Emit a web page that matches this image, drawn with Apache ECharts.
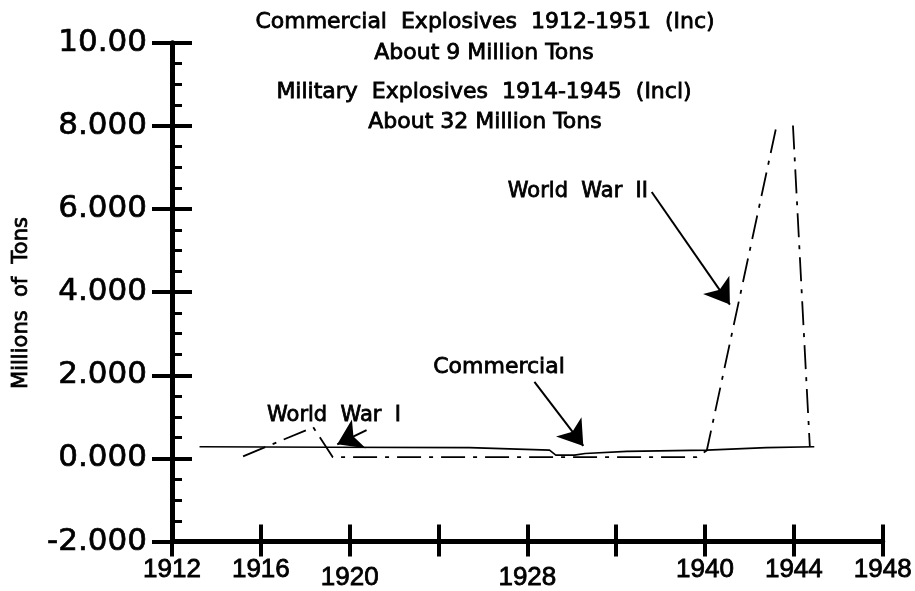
<!DOCTYPE html>
<html><head><meta charset="utf-8">
<script src="https://cdn.jsdelivr.net/npm/echarts@6/dist/echarts.min.js"></script>
<style>html,body{margin:0;padding:0;background:#fff}#c{width:915px;height:591px}</style>
</head><body><div id="c"></div>
<script>
// x positions are in tick-slot units: 0 = "1912" tick ... 8 = "1948" tick
const xTickLabels = ['1912','1916','1920','','1928','','1940','1944','1948'];
const xLowLabels = ['1920','1928'];
const yTickLabels = ['-2.000','0.000','2.000','4.000','6.000','8.000','10.00'];

const commercialX = [0.31, 1.78, 3.35, 4.25, 4.32, 4.53, 4.65, 5.12, 6.02, 6.69, 7.23];
const commercialY = [0.28, 0.27, 0.26, 0.20, 0.08, 0.08, 0.12, 0.17, 0.20, 0.26, 0.28];

const militaryX = [0.80, 1.59, 1.81, 5.90, 6.02, 6.81, 6.90, 6.99, 7.18];
const militaryY = [0.05, 0.75, 0.03, 0.03, 0.19, 8.05, null, 8.01, 0.28];

// annotation arrows: [startX, startY, endX, endY]
const arrowWW2 = [5.40, 6.41, 6.28, 3.70];
const arrowCommercial = [4.08, 1.84, 4.63, 0.30];
const arrowWW1 = [2.19, 0.68, 1.86, 0.34];

const titleLines = ['Commercial  Explosives  1912-1951  (Inc)', 'About 9 Million Tons',
                    'Military  Explosives  1914-1945  (Incl)', 'About 32 Million Tons'];

const chart = echarts.init(document.getElementById('c'), null, {renderer: 'canvas'});
const zip = (xs, ys) => xs.map((x, i) => [x, ys[i]]);
const arrowPair = a => [{coord: [a[0], a[1]]}, {coord: [a[2], a[3]]}];

const txtStyle = (text, size, family, align) => ({
  text, fill: '#000', font: `${size}px ${family}`, textAlign: align || 'center', textVerticalAlign: 'middle',
  stroke: '#000', lineWidth: 0.8
});

const axisCommon = {
  type: 'value', min: 0, max: 8, interval: 1,
  splitLine: {show: false}
};

chart.setOption({
  animation: false,
  backgroundColor: '#fff',
  grid: {left: 172, right: 32, top: 42.7, bottom: 49.3},
  xAxis: [
    Object.assign({}, axisCommon, {
      position: 'bottom',
      axisLine: {show: true, onZero: false, lineStyle: {color: '#000', width: 5}},
      axisTick: {show: true, inside: true, length: 17, lineStyle: {color: '#000', width: 4}},
      axisLabel: {
        show: true, margin: 15, color: '#000',
        formatter: v => {
          const s = xTickLabels[Math.round(v)] || '';
          if (!s) return '';
          return xLowLabels.includes(s) ? '{lo|' + s + '}' : '{hi|' + s + '}';
        },
        rich: {
          hi: {fontSize: 26, fontFamily: 'Liberation Sans', color: '#000', textBorderColor: '#000', textBorderWidth: 0.8},
          lo: {fontSize: 26, fontFamily: 'Liberation Sans', color: '#000', padding: [8, 0, 0, 0], textBorderColor: '#000', textBorderWidth: 0.8}
        }
      }
    }),
    Object.assign({}, axisCommon, {
      position: 'bottom', offset: 0,
      axisLine: {show: false, onZero: false},
      axisTick: {show: true, inside: false, length: 15, lineStyle: {color: '#000', width: 4}},
      axisLabel: {show: false}
    })
  ],
  yAxis: [
    {
      type: 'value', min: -2, max: 10, interval: 2, position: 'left',
      splitLine: {show: false},
      axisLine: {show: true, onZero: false, lineStyle: {color: '#000', width: 5}},
      axisTick: {show: true, inside: true, length: 20, lineStyle: {color: '#000', width: 4}},
      minorTick: {show: true, splitNumber: 4, length: 10, lineStyle: {color: '#000', width: 3}},
      axisLabel: {
        show: true, margin: 25, color: '#000', fontSize: 31, fontFamily: 'DejaVu Sans',
        textBorderColor: '#000', textBorderWidth: 0.7,
        formatter: v => yTickLabels[Math.round((v + 2) / 2)] || ''
      }
    },
    {
      type: 'value', min: -2, max: 10, interval: 2, position: 'left', offset: 0,
      splitLine: {show: false},
      axisLine: {show: false, onZero: false},
      axisTick: {show: true, inside: false, length: 20, lineStyle: {color: '#000', width: 4}},
      axisLabel: {show: false}
    }
  ],
  series: [
    {
      name: 'Commercial', type: 'line', xAxisIndex: 0, yAxisIndex: 0,
      data: zip(commercialX, commercialY), showSymbol: false, symbol: 'none',
      lineStyle: {color: '#000', width: 1.6},
      markLine: {
        silent: true, symbol: ['none', 'arrow'], symbolSize: 24,
        label: {show: false},
        lineStyle: {color: '#000', width: 2, type: 'solid'},
        itemStyle: {color: '#000'},
        data: [arrowPair(arrowWW2), arrowPair(arrowCommercial), arrowPair(arrowWW1)]
      }
    },
    {
      name: 'Military', type: 'line', xAxisIndex: 0, yAxisIndex: 0,
      data: zip(militaryX, militaryY), showSymbol: false, symbol: 'none', connectNulls: false,
      lineStyle: {color: '#000', width: 1.8, type: [24, 8, 4, 8]}
    }
  ],
  graphic: [
    {type: 'text', x: 485, y: 22, style: txtStyle(titleLines[0], 22, 'DejaVu Sans')},
    {type: 'text', x: 484, y: 53, style: txtStyle(titleLines[1], 22, 'DejaVu Sans')},
    {type: 'text', x: 484, y: 92, style: txtStyle(titleLines[2], 22, 'DejaVu Sans')},
    {type: 'text', x: 485, y: 122, style: txtStyle(titleLines[3], 22, 'DejaVu Sans')},
    {type: 'text', x: 648, y: 192, style: txtStyle('World  War  II', 21, 'DejaVu Sans', 'right')},
    {type: 'text', x: 499, y: 367, style: txtStyle('Commercial', 22, 'DejaVu Sans')},
    {type: 'text', x: 334, y: 416, style: txtStyle('World  War  I', 21, 'DejaVu Sans')},
    {type: 'text', x: 22, y: 303, rotation: Math.PI / 2, style: txtStyle('Millions  of  Tons', 21, 'DejaVu Sans')}
  ]
});
</script></body></html>
